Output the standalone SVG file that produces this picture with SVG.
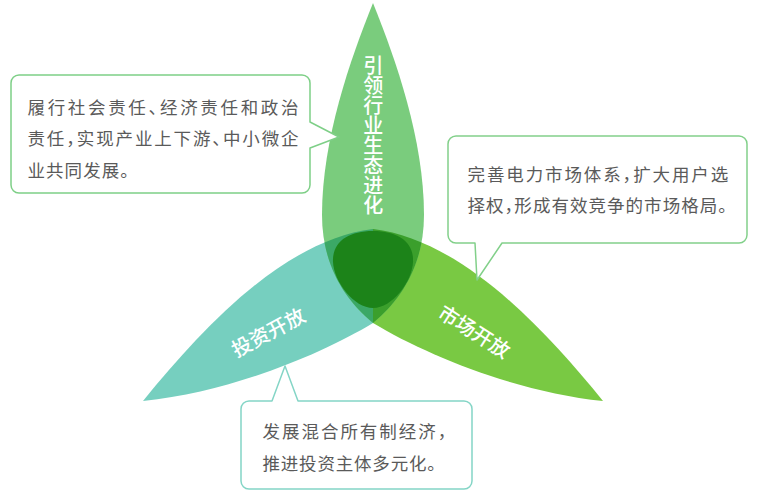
<svg xmlns="http://www.w3.org/2000/svg" width="759" height="496" viewBox="0 0 759 496">
  <style>
    .note { fill: #5a5a5a; font-family: "Noto Sans CJK SC", "Noto Sans", sans-serif; font-size: 17.5px; font-feature-settings: "halt"; }
    .label { fill: #ffffff; font-family: "Noto Sans CJK SC", "Noto Sans", sans-serif; font-size: 20px; font-weight: 500; }
    .vlabel { writing-mode: vertical-rl; text-orientation: upright; }
    .box { fill: #ffffff; stroke-width: 1.5; stroke-linejoin: round; }
  </style>
  <defs>
    <path id="topP" d="M373,3 C350,60 322,140 322,215 C322,265 345,300 373,323 C401,300 424,265 424,215 C424,140 396,60 373,3 Z"/>
    <path id="tealP" d="M143,401 C205,325 285,240 373,229 L373,323 C320,355 230,392 143,401 Z"/>
    <path id="greenP" d="M603,401 C541,325 461,240 373,229 L373,323 C426,355 516,392 603,401 Z"/>
    <clipPath id="clipTeal"><use href="#tealP"/></clipPath>
    <clipPath id="clipGreen"><use href="#greenP"/></clipPath>
  </defs>

  <g id="petals">
    <g id="petal-invest">
      <use href="#tealP" fill="#76cfbf"/>
    </g>
    <g id="petal-market">
      <use href="#greenP" fill="#79c943"/>
    </g>
    <g id="petal-industry">
      <use href="#topP" fill="#7acc7d"/>
    </g>
    <g id="overlaps">
      <use href="#topP" fill="#3ba866" clip-path="url(#clipTeal)"/>
      <use href="#topP" fill="#3b9f2c" clip-path="url(#clipGreen)"/>
      <path id="core" d="M373,231 C398,231 414,242 413,262 C412,282 392,308 373,308 C354,308 334,282 333,262 C332,242 348,231 373,231 Z" fill="#1c8319"/>
    </g>
    <text class="label vlabel" x="373.3" y="55.5">引领行业生态进化</text>
    <text class="label" text-anchor="middle" transform="translate(268.3,332.5) rotate(-28)" x="0" y="7.3">投资开放</text>
    <text class="label" text-anchor="middle" transform="translate(474.2,331.7) rotate(32.5)" x="0" y="7.3">市场开放</text>
  </g>

  <g id="callout-left">
    <path class="box" stroke="#7ecf87" d="M19,75 H302 A8,8 0 0 1 310,83 V122 L339,137 L310,148 V185 A8,8 0 0 1 302,193 H19 A8,8 0 0 1 11,185 V83 A8,8 0 0 1 19,75 Z"/>
    <text class="note" x="27.5" y="113.8" textLength="271" lengthAdjust="spacing">履行社会责任、经济责任和政治</text>
    <text class="note" x="27.5" y="145.1" textLength="271" lengthAdjust="spacing">责任，实现产业上下游、中小微企</text>
    <text class="note" x="27.5" y="176.8" textLength="101.5" lengthAdjust="spacing">业共同发展。</text>
  </g>

  <g id="callout-right">
    <path class="box" stroke="#82d08a" d="M456,136 H739 A8,8 0 0 1 747,144 V235 A8,8 0 0 1 739,243 H502 L477,280 L475,243 H456 A8,8 0 0 1 448,235 V144 A8,8 0 0 1 456,136 Z"/>
    <text class="note" x="467.5" y="181" textLength="260.7" lengthAdjust="spacing">完善电力市场体系，扩大用户选</text>
    <text class="note" x="467.5" y="211.8" textLength="259.5" lengthAdjust="spacing">择权，形成有效竞争的市场格局。</text>
  </g>

  <g id="callout-bottom">
    <path class="box" stroke="#84d5c6" d="M249,401 H272 L285,366 L298,401 H464 A8,8 0 0 1 472,409 V481 A8,8 0 0 1 464,489 H249 A8,8 0 0 1 241,481 V409 A8,8 0 0 1 249,401 Z"/>
    <text class="note" x="262.5" y="438.3" textLength="184" lengthAdjust="spacing">发展混合所有制经济，</text>
    <text class="note" x="262.5" y="470.3" textLength="173.5" lengthAdjust="spacing">推进投资主体多元化。</text>
  </g>
</svg>
